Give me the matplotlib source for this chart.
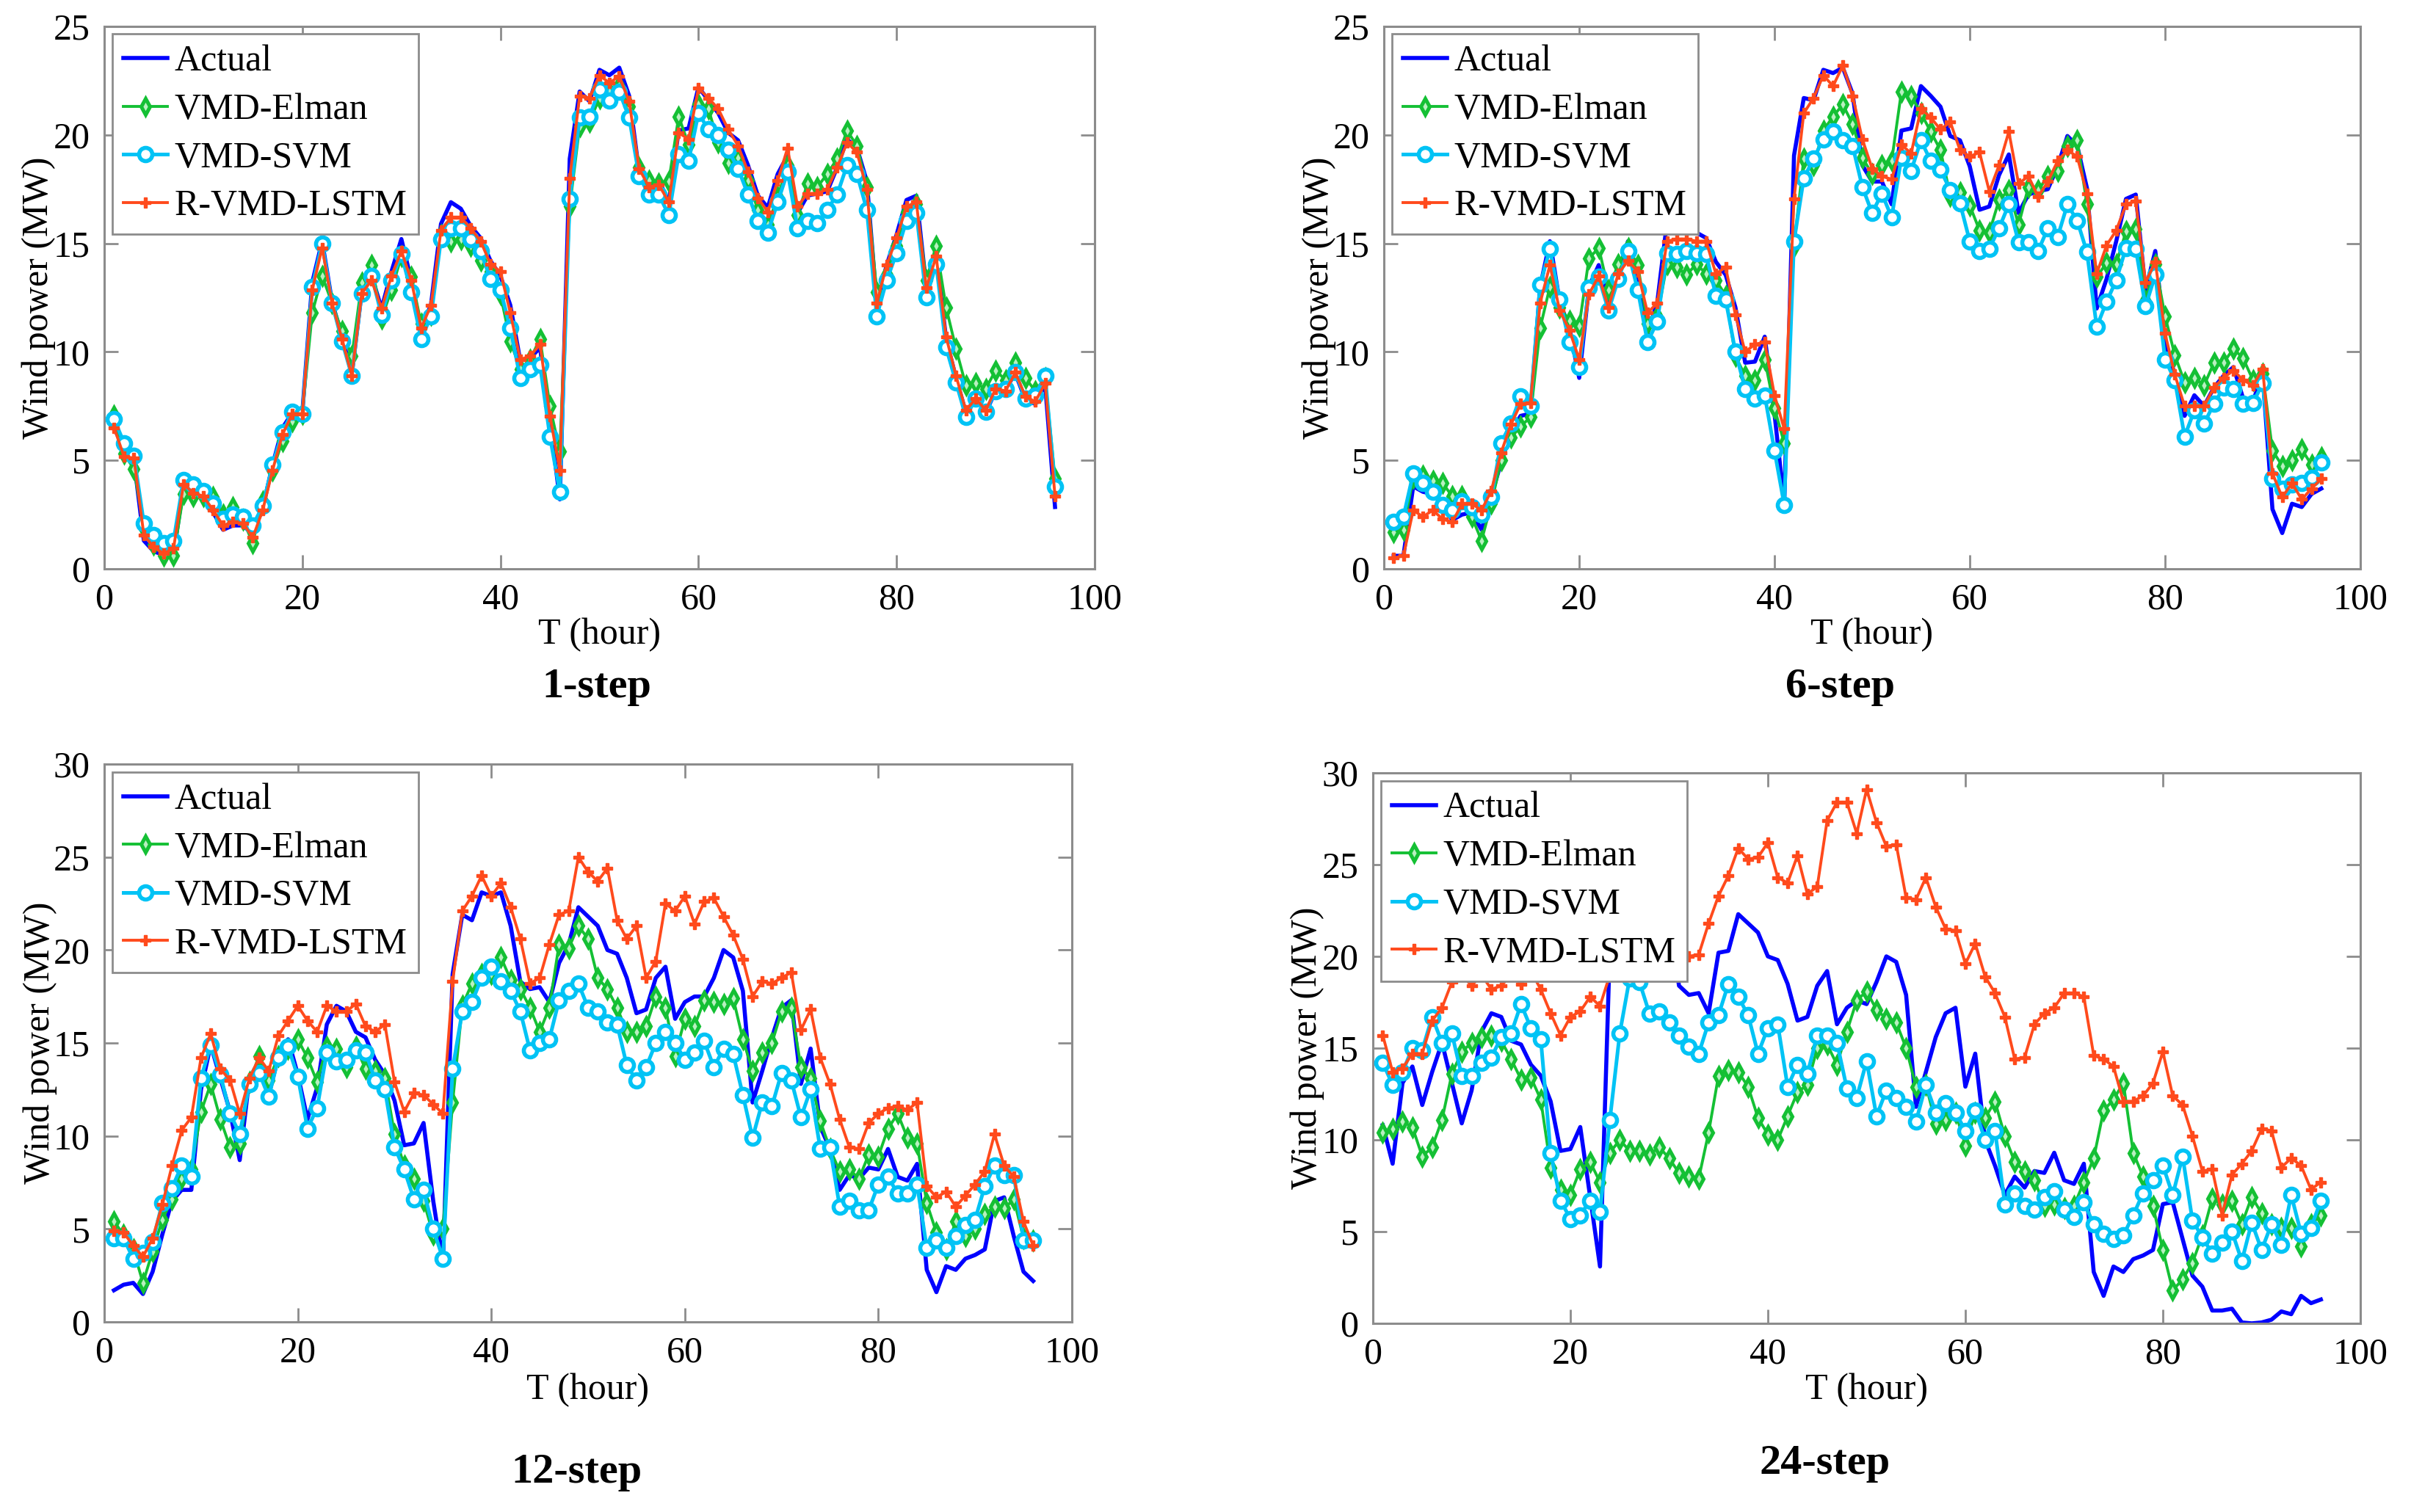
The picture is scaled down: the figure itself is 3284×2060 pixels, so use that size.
import numpy as np
import matplotlib
matplotlib.use("Agg")
import matplotlib.pyplot as plt

plt.rcParams['font.family'] = ['Liberation Serif', 'DejaVu Serif']

hours = np.arange(1, 97)
series_names = ['Actual', 'VMD-Elman', 'VMD-SVM', 'R-VMD-LSTM']
captions = ['1-step', '6-step', '12-step', '24-step']
y_limits = [25, 25, 30, 30]

# ---- 1-step ----
p1_actual = [6.5, 5.5, 5.0, 1.3, 0.8, 0.65, 0.7, 3.8, 3.6, 3.3,
             2.6, 1.8, 2.0, 2.0, 1.6, 2.8, 4.8, 6.5, 7.2, 7.2,
             13.2, 15.1, 12.3, 10.7, 9.0, 12.8, 13.5, 12.0, 13.7, 15.2,
             13.3, 11.0, 12.2, 15.9, 16.9, 16.6, 15.8, 15.25, 14.2, 13.5,
             12.15, 9.6, 9.7, 10.2, 6.8, 3.2, 18.9, 22.0, 21.55, 23.0,
             22.75, 23.1, 21.8, 18.3, 17.7, 17.9, 16.9, 20.2, 20.3, 22.2,
             21.6, 21.0, 20.1, 19.75, 18.6, 17.2, 16.65, 18.2, 19.05, 16.4,
             17.2, 17.3, 17.4, 18.5, 19.8, 19.4, 17.85, 12.2, 14.0, 15.4,
             17.0, 17.2, 13.0, 14.5, 10.6, 8.8, 7.2, 7.9, 7.2, 8.2,
             8.3, 9.0, 7.8, 7.6, 8.5, 2.85]
p1_elman = [7.07, 5.3, 4.6, 1.9, 1.1, 0.6, 0.6, 3.45, 3.35, 3.35,
            3.3, 2.5, 2.85, 2.25, 1.2, 3.1, 4.55, 5.9, 6.8, 7.15,
            11.8, 13.5, 12.25, 10.95, 9.8, 13.2, 14.0, 11.55, 12.85, 14.4,
            13.45, 11.3, 11.7, 15.4, 15.1, 15.2, 14.9, 14.2, 13.7, 12.65,
            10.5, 9.2, 9.65, 10.6, 7.5, 5.4, 16.7, 20.4, 20.6, 21.7,
            22.0, 22.25, 21.3, 18.5, 17.9, 17.75, 17.85, 20.85, 19.55, 21.4,
            21.2, 19.65, 18.7, 18.95, 17.9, 16.55, 15.85, 17.15, 18.6, 16.3,
            17.75, 17.6, 18.2, 18.9, 20.2, 19.5, 17.6, 12.75, 13.55, 14.9,
            16.45, 16.8, 13.3, 14.9, 12.05, 10.15, 8.45, 8.55, 8.3, 9.15,
            8.7, 9.5, 8.8, 8.2, 8.8, 4.15]
p1_svm = [6.9, 5.8, 5.2, 2.1, 1.55, 1.2, 1.3, 4.1, 3.9, 3.6,
          3.0, 2.3, 2.5, 2.4, 2.0, 2.9, 4.8, 6.3, 7.25, 7.15,
          13.0, 15.0, 12.25, 10.5, 8.9, 12.7, 13.5, 11.7, 13.3, 14.5,
          12.75, 10.6, 11.65, 15.2, 15.7, 15.7, 15.2, 14.65, 13.35, 12.85,
          11.1, 8.8, 9.2, 9.4, 6.1, 3.55, 17.05, 20.8, 20.85, 22.1,
          21.6, 22.0, 20.8, 18.1, 17.25, 17.25, 16.3, 19.1, 18.8, 21.0,
          20.25, 20.0, 19.3, 18.45, 17.25, 16.05, 15.5, 16.9, 18.3, 15.7,
          16.05, 15.95, 16.55, 17.25, 18.6, 18.2, 16.55, 11.65, 13.3, 14.55,
          16.05, 16.4, 12.5, 14.05, 10.2, 8.6, 7.0, 7.85, 7.25, 8.2,
          8.3, 9.05, 7.85, 8.0, 8.9, 3.8]
p1_lstm = [6.5, 5.17, 5.1, 1.55, 1.0, 0.7, 0.95, 3.9, 3.5, 3.35,
           2.7, 2.0, 2.15, 2.1, 1.45, 2.7, 4.55, 6.2, 7.15, 7.15,
           12.85, 14.8, 12.25, 10.6, 8.9, 12.7, 13.3, 12.0, 13.5, 14.65,
           13.3, 11.1, 12.15, 15.6, 16.2, 16.2, 15.7, 15.1, 14.05, 13.7,
           11.8, 9.65, 9.8, 10.35, 7.05, 4.55, 18.0, 21.8, 21.7, 22.75,
           22.4, 22.7, 21.55, 18.45, 17.6, 17.7, 16.9, 20.1, 19.8, 22.15,
           21.7, 21.2, 20.25, 19.5, 18.3, 17.1, 16.45, 17.9, 19.4, 16.7,
           17.3, 17.3, 17.5, 18.5, 19.65, 19.2, 17.5, 12.25, 14.0, 15.25,
           16.7, 16.9, 12.95, 14.4, 10.7, 8.9, 7.3, 7.85, 7.3, 8.3,
           8.2, 9.05, 7.95, 7.7, 8.55, 3.35]

# ---- 6-step ----
p2_actual = [0.6, 0.6, 3.8, 3.55, 3.45, 3.0, 2.25, 2.5, 2.6, 1.8,
             3.35, 4.9, 6.3, 7.05, 7.15, 13.0, 15.1, 12.3, 11.1, 8.8,
             13.0, 14.0, 12.25, 13.7, 15.1, 13.35, 10.85, 12.3, 16.0, 17.0,
             16.75, 15.5, 15.25, 14.15, 13.55, 12.05, 9.5, 9.55, 10.7, 7.15,
             3.0, 19.05, 21.7, 21.6, 23.0, 22.85, 23.1, 21.9, 18.6, 17.85,
             17.85, 16.8, 20.2, 20.3, 22.25, 21.8, 21.3, 19.95, 19.75, 18.55,
             16.55, 16.7, 18.15, 19.1, 16.4, 17.25, 17.4, 17.5, 18.55, 19.95,
             19.5, 17.55, 12.0, 13.35, 15.1, 17.05, 17.25, 12.85, 14.65, 10.45,
             8.95, 7.05, 8.0, 7.5, 8.35, 8.9, 9.3, 7.85, 7.75, 8.9,
             2.75, 1.65, 3.0, 2.85, 3.45, 3.7]
p2_elman = [1.7, 1.8, 4.2, 4.3, 4.05, 3.95, 3.35, 3.35, 2.4, 1.3,
            3.0, 5.0, 6.05, 6.55, 7.0, 11.1, 13.0, 12.05, 11.45, 11.2,
            14.3, 14.8, 12.85, 14.05, 14.8, 14.0, 11.3, 11.65, 14.05, 13.9,
            13.55, 14.05, 13.6, 13.3, 12.6, 9.8, 8.9, 8.7, 9.65, 7.4,
            5.8, 14.9, 18.9, 18.6, 20.2, 20.85, 21.4, 20.5, 18.95, 18.2,
            18.6, 18.8, 22.0, 21.8, 21.0, 20.15, 19.3, 17.2, 17.35, 16.75,
            15.6, 15.5, 17.0, 17.45, 15.85, 17.6, 17.45, 18.1, 18.35, 19.5,
            19.75, 16.8, 13.45, 14.1, 14.05, 15.55, 15.65, 12.35, 14.05, 11.65,
            9.85, 8.6, 8.8, 8.45, 9.5, 9.5, 10.15, 9.7, 8.7, 9.0,
            5.45, 4.75, 5.0, 5.5, 4.8, 5.15]
p2_svm = [2.15, 2.4, 4.4, 3.95, 3.55, 2.95, 2.7, 3.1, 2.85, 2.5,
          3.3, 5.8, 6.7, 7.95, 7.5, 13.1, 14.75, 12.4, 10.45, 9.3,
          12.95, 13.45, 11.9, 13.35, 14.65, 12.85, 10.45, 11.4, 14.55, 14.5,
          14.65, 14.55, 14.5, 12.6, 12.4, 10.0, 8.3, 7.85, 8.0, 5.45,
          2.95, 15.1, 18.0, 18.9, 19.8, 20.15, 19.75, 19.5, 17.6, 16.4,
          17.3, 16.2, 18.95, 18.35, 19.75, 18.8, 18.4, 17.45, 16.85, 15.1,
          14.65, 14.75, 15.7, 16.8, 15.05, 15.05, 14.65, 15.7, 15.3, 16.8,
          16.05, 14.6, 11.15, 12.3, 13.3, 14.8, 14.75, 12.1, 13.55, 9.65,
          8.7, 6.1, 7.3, 6.7, 7.6, 8.35, 8.3, 7.6, 7.65, 8.55,
          4.15, 3.7, 3.9, 3.95, 4.2, 4.9]
p2_lstm = [0.5, 0.6, 2.7, 2.4, 2.7, 2.3, 2.15, 3.0, 3.0, 2.7,
           3.6, 5.35, 6.65, 7.6, 7.65, 12.25, 14.0, 11.9, 11.0, 9.65,
           12.65, 13.5, 12.05, 13.6, 14.2, 13.7, 11.8, 12.25, 15.1, 15.2,
           15.2, 15.1, 15.1, 13.6, 13.9, 11.7, 10.0, 10.35, 10.45, 8.0,
           6.45, 17.05, 21.0, 21.7, 22.75, 22.25, 23.2, 21.8, 19.8, 18.45,
           18.1, 17.95, 19.55, 19.15, 21.2, 20.8, 20.25, 20.6, 19.3, 19.0,
           19.2, 17.4, 18.6, 20.15, 17.75, 18.1, 17.15, 17.85, 18.8, 19.3,
           19.0, 17.3, 13.6, 14.9, 15.6, 16.8, 16.95, 13.2, 14.15, 10.85,
           8.95, 7.5, 7.5, 7.5, 8.35, 8.8, 9.15, 8.7, 8.45, 9.2,
           4.4, 3.3, 3.95, 3.2, 3.7, 4.15]

# ---- 12-step ----
p3_actual = [1.7, 2.0, 2.1, 1.5, 2.7, 4.7, 6.5, 7.1, 7.1, 12.5,
             14.9, 13.1, 11.3, 8.7, 13.1, 14.0, 12.2, 14.3, 15.2, 13.3,
             10.9, 12.6, 16.0, 17.0, 16.7, 15.6, 15.3, 14.1, 13.3, 11.9,
             9.5, 9.6, 10.7, 6.5, 3.2, 18.7, 21.9, 21.6, 23.1, 22.9,
             23.1, 21.3, 18.3, 17.9, 18.0, 17.2, 19.3, 20.3, 22.3, 21.8,
             21.3, 20.0, 19.8, 18.5, 16.6, 16.8, 18.5, 19.1, 16.3, 17.2,
             17.5, 17.5, 18.5, 20.0, 19.6, 17.8, 11.8, 13.5, 15.3, 16.9,
             17.3, 12.8, 14.7, 10.5, 9.3, 7.1, 7.9, 7.7, 8.3, 8.2,
             9.3, 7.8, 7.6, 8.5, 2.8, 1.6, 3.0, 2.8, 3.4, 3.6,
             3.9, 6.5, 6.7, 4.6, 2.7, 2.2]
p3_elman = [5.4, 4.7, 3.9, 2.1, 3.8, 5.5, 6.6, 7.7, 8.2, 11.3,
            12.8, 10.9, 9.4, 9.6, 12.9, 14.3, 13.0, 14.3, 14.7, 15.2,
            14.2, 12.9, 14.8, 14.7, 13.7, 14.8, 13.6, 13.5, 13.1, 10.1,
            8.4, 7.7, 6.5, 4.7, 5.0, 11.8, 17.0, 18.2, 18.7, 18.7,
            19.6, 18.4, 17.9, 16.9, 15.6, 16.9, 20.3, 20.1, 21.3, 20.6,
            18.5, 17.9, 16.9, 15.6, 15.6, 15.9, 17.5, 16.9, 14.3, 16.3,
            15.9, 17.3, 17.2, 17.1, 17.4, 15.2, 13.5, 14.5, 15.0, 16.7,
            16.9, 13.7, 13.1, 10.8, 9.3, 8.1, 8.2, 7.7, 9.0, 8.9,
            10.4, 11.2, 9.9, 9.6, 6.4, 4.8, 3.9, 5.4, 4.6, 5.0,
            5.8, 6.2, 6.1, 6.6, 4.5, 4.4]
p3_svm = [4.5, 4.5, 3.4, 3.7, 4.3, 6.4, 7.2, 8.4, 7.8, 13.1,
          14.9, 13.3, 11.2, 10.1, 12.8, 13.4, 12.1, 14.2, 14.8, 13.2,
          10.4, 11.5, 14.5, 14.0, 14.1, 14.6, 14.5, 13.0, 12.5, 9.4,
          8.2, 6.6, 7.1, 5.0, 3.4, 13.6, 16.7, 17.2, 18.5, 19.1,
          18.3, 17.8, 16.7, 14.6, 15.0, 15.2, 17.3, 17.8, 18.2, 16.9,
          16.7, 16.1, 16.0, 13.8, 13.0, 13.7, 15.0, 15.6, 15.0, 14.1,
          14.5, 15.1, 13.7, 14.7, 14.4, 12.2, 9.9, 11.8, 11.6, 13.4,
          13.0, 11.0, 12.5, 9.3, 9.4, 6.2, 6.5, 6.0, 6.0, 7.4,
          7.8, 6.9, 6.9, 7.4, 4.0, 4.4, 4.0, 4.6, 5.2, 5.5,
          7.3, 8.4, 7.9, 7.9, 4.4, 4.4]
p3_lstm = [4.9, 4.8, 4.1, 3.5, 4.5, 6.3, 8.4, 10.3, 11.0, 14.2,
           15.5, 13.6, 13.0, 11.2, 13.1, 14.2, 13.5, 15.4, 16.2, 17.0,
           16.2, 15.6, 17.0, 16.7, 16.7, 17.1, 15.9, 15.6, 16.0, 12.9,
           11.3, 12.3, 12.2, 11.7, 11.2, 18.3, 22.1, 22.9, 24.0, 22.9,
           23.6, 22.3, 20.6, 18.2, 18.5, 20.3, 21.9, 22.1, 25.0, 24.2,
           23.7, 24.4, 21.6, 20.6, 21.3, 18.5, 19.4, 22.5, 22.1, 22.9,
           21.4, 22.6, 22.8, 21.8, 20.8, 19.5, 17.5, 18.3, 18.2, 18.5,
           18.8, 15.7, 16.8, 14.2, 12.8, 10.9, 9.4, 9.3, 10.7, 11.2,
           11.5, 11.6, 11.4, 11.8, 7.3, 6.7, 7.0, 6.2, 6.8, 7.4,
           8.1, 10.1, 8.4, 7.8, 5.4, 4.1]

# ---- 24-step ----
p4_actual = [10.8, 8.7, 13.1, 14.0, 11.9, 13.7, 15.3, 13.1, 10.9, 12.7,
             15.9, 16.9, 16.7, 15.4, 15.2, 14.1, 13.5, 12.1, 9.4, 9.5,
             10.7, 6.9, 3.1, 20.5, 21.5, 21.0, 22.0, 22.5, 22.3, 22.1,
             18.4, 17.9, 18.0, 16.9, 20.2, 20.3, 22.3, 21.8, 21.3, 20.0,
             19.8, 18.5, 16.5, 16.7, 18.4, 19.2, 16.3, 17.2, 17.6, 17.4,
             18.6, 20.0, 19.7, 17.9, 11.8, 13.7, 15.6, 16.9, 17.2, 12.9,
             14.7, 10.0, 8.6, 7.0, 8.0, 7.4, 8.3, 8.2, 9.3, 7.8,
             7.6, 8.7, 2.8, 1.5, 3.1, 2.8, 3.5, 3.7, 4.0, 6.5,
             6.6, 4.6, 2.6, 2.0, 0.7, 0.7, 0.8, 0.05, 0.0, 0.05,
             0.2, 0.65, 0.5, 1.5, 1.1, 1.3]
p4_elman = [10.4, 10.6, 11.0, 10.7, 9.1, 9.6, 11.1, 13.6, 14.8, 15.3,
            15.6, 15.7, 15.4, 14.4, 13.3, 13.4, 12.2, 8.5, 7.3, 7.0,
            8.4, 8.8, 7.7, 9.3, 10.0, 9.4, 9.4, 9.2, 9.6, 9.0,
            8.2, 8.0, 7.9, 10.4, 13.5, 13.8, 13.7, 12.9, 11.2, 10.3,
            10.0, 11.3, 12.6, 13.0, 15.0, 15.2, 14.1, 15.9, 17.6, 18.1,
            17.1, 16.6, 16.4, 15.0, 12.9, 13.0, 10.9, 11.1, 11.5, 9.7,
            11.5, 11.2, 12.1, 10.2, 8.8, 8.3, 7.8, 6.4, 6.5, 6.3,
            6.4, 7.7, 9.0, 11.6, 12.2, 13.1, 9.3, 8.0, 6.4, 4.0,
            1.8, 2.4, 3.3, 4.8, 6.8, 6.5, 6.7, 5.4, 6.9, 6.0,
            5.4, 5.2, 5.2, 4.2, 5.4, 5.9]
p4_svm = [14.2, 13.0, 13.7, 15.0, 14.9, 16.7, 15.3, 15.8, 13.5, 13.5,
          14.2, 14.5, 15.6, 15.8, 17.4, 16.1, 15.5, 9.3, 6.7, 5.7,
          5.9, 6.7, 6.1, 11.1, 15.8, 18.8, 18.6, 16.9, 17.0, 16.4,
          15.7, 15.1, 14.7, 16.4, 16.8, 18.5, 17.8, 16.8, 14.7, 16.1,
          16.3, 12.9, 14.1, 13.6, 15.7, 15.7, 15.3, 12.8, 12.3, 14.3,
          11.3, 12.7, 12.3, 11.8, 11.0, 13.0, 11.5, 12.0, 11.5, 10.5,
          11.6, 10.0, 10.5, 6.5, 7.1, 6.4, 6.2, 6.9, 7.2, 6.2,
          5.8, 6.6, 5.4, 4.9, 4.6, 4.8, 5.9, 7.1, 7.8, 8.6,
          7.0, 9.1, 5.6, 4.7, 3.8, 4.4, 5.0, 3.4, 5.5, 4.0,
          5.4, 4.3, 7.0, 4.9, 5.2, 6.7]
p4_lstm = [15.7, 13.7, 13.9, 14.7, 14.7, 16.5, 17.2, 18.6, 19.0, 18.4,
           19.0, 18.2, 18.4, 19.0, 18.5, 19.2, 18.2, 16.9, 15.7, 16.7,
           17.0, 17.8, 17.3, 19.0, 19.8, 20.6, 21.8, 22.5, 23.5, 24.1,
           21.3, 20.0, 20.1, 21.8, 23.3, 24.4, 25.9, 25.3, 25.4, 26.2,
           24.3, 24.0, 25.5, 23.4, 23.8, 27.4, 28.4, 28.4, 26.7, 29.1,
           27.3, 26.0, 26.1, 23.2, 23.1, 24.3, 22.7, 21.5, 21.4, 19.6,
           20.7, 18.9, 18.0, 16.7, 14.4, 14.5, 16.3, 16.9, 17.2, 18.0,
           18.0, 17.8, 14.6, 14.4, 14.0, 12.1, 12.1, 12.4, 13.1, 14.8,
           12.4, 11.9, 10.2, 8.3, 8.4, 5.9, 8.1, 8.7, 9.4, 10.6,
           10.5, 8.5, 9.0, 8.6, 7.3, 7.7]

panels = [
    (p1_actual, p1_elman, p1_svm, p1_lstm),
    (p2_actual, p2_elman, p2_svm, p2_lstm),
    (p3_actual, p3_elman, p3_svm, p3_lstm),
    (p4_actual, p4_elman, p4_svm, p4_lstm),
]

# axes boxes in pixels of the 3284x2060 canvas: left, top, right, bottom
W, H = 3284, 2060
boxes = [(142, 36, 1491, 775), (1885, 36, 3215, 775),
         (142, 1041, 1460, 1801), (1870, 1053, 3215, 1803)]
caption_xy = [(813, 936), (2507, 936), (785, 2006), (2486, 1994)]

box_gray = '#8c8c8c'

fig = plt.figure(figsize=(W / 200, H / 200), dpi=200)

for k in range(4):
    l, t, r, b = boxes[k]
    ax = fig.add_axes([l / W, 1 - b / H, (r - l) / W, (b - t) / H])
    actual, elman, svm, lstm = panels[k]

    ax.plot(hours, actual, color='#0000ff', lw=2.0, label=series_names[0], zorder=2)
    ax.plot(hours, elman, color='#14c034', lw=1.4, marker='d', ms=5.5,
            mfc='#b8f0c0', mec='#14c034', mew=1.8, label=series_names[1], zorder=3)
    ax.plot(hours, svm, color='#00c3f5', lw=1.8, marker='o', ms=6.5,
            mfc='white', mec='#00c3f5', mew=2.0, label=series_names[2], zorder=3)
    ax.plot(hours, lstm, color='#ff4a1c', lw=1.4, marker='P', ms=5.0,
            mfc='#ff4a1c', mec='#ff4a1c', mew=0.5, label=series_names[3], zorder=4)

    ax.set_xlim(0, 100)
    ax.set_ylim(0, y_limits[k])
    ax.set_xticks(np.arange(0, 101, 20))
    ax.set_yticks(np.arange(0, y_limits[k] + 1, 5))
    ax.tick_params(direction='in', length=7, width=1.0, color=box_gray,
                   labelsize=18, top=True, right=True, pad=7)
    for s in ax.spines.values():
        s.set_color(box_gray)
        s.set_linewidth(1.1)

    ax.set_xlabel('T (hour)', fontsize=18)
    ax.xaxis.set_label_coords(0.5, -(865 - 775) / 739)
    ax.xaxis.label.set_va('center')
    ax.set_ylabel('Wind power (MW)', fontsize=18)
    ax.yaxis.set_label_coords(-0.066, 0.5)
    ax.yaxis.label.set_va('center')

    leg = ax.legend(loc='upper left', bbox_to_anchor=(0.008, 0.986), borderaxespad=0,
                    fontsize=18, handlelength=1.2, handletextpad=0.2,
                    labelspacing=0.38, borderpad=0.3, fancybox=False,
                    framealpha=1, edgecolor=box_gray)
    leg.get_frame().set_linewidth(1.0)

    cx, cy = caption_xy[k]
    fig.text(cx / W, 1 - cy / H, captions[k], fontsize=21, fontweight='bold',
             ha='center', va='center')

fig.savefig('out.png', dpi=200)
